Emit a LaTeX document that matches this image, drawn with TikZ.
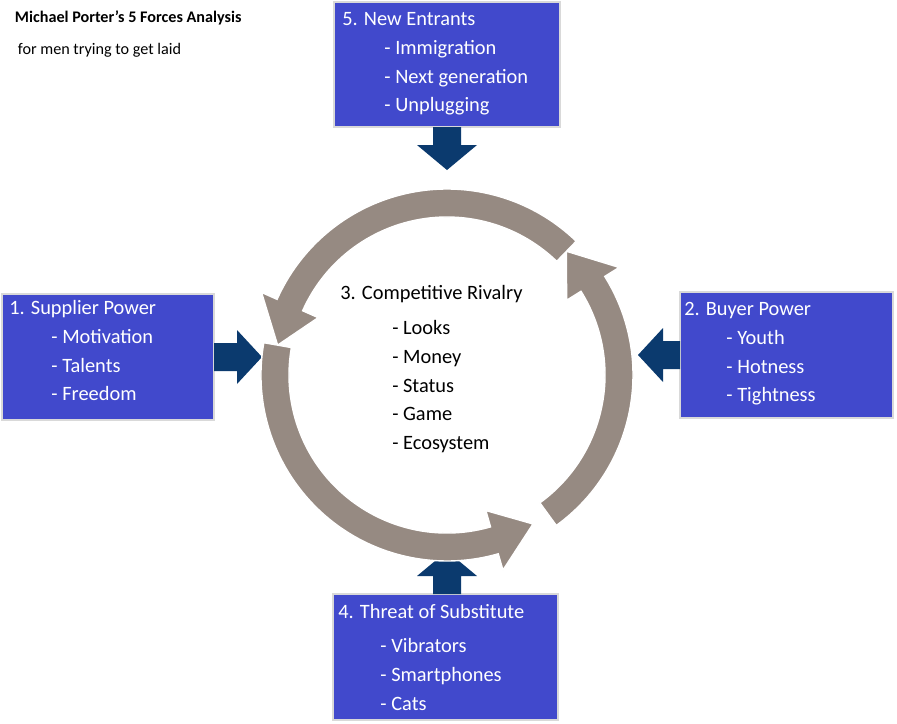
\documentclass[tikz,border=0pt]{standalone}
\usepackage{fontspec}
\setmainfont{Carlito}
\usetikzlibrary{positioning}

\begin{document}
\begin{tikzpicture}
[x=0.025cm,y=0.025cm,
 force/.style={draw=black!15,line width=1.2pt,fill=forceblue,text=white,anchor=north west,
   align=left,inner sep=0pt,font=\fontsize{14.5}{20.5}\selectfont},
 push/.style={fill=pushblue},
 ring/.style={fill=ringgray,draw=white,line width=1pt},
 item/.style={font=\fontsize{14.5}{20.5}\selectfont,anchor=north west,align=left,inner sep=0pt}]
\definecolor{forceblue}{HTML}{4149CC}
\definecolor{pushblue}{HTML}{0B3A6E}
\definecolor{ringgray}{HTML}{968A82}
\useasboundingbox (0,0) rectangle (897,-724);

%Title
\node (title) at (10,-18) [anchor=west,font=\fontsize{11.5}{14}\selectfont\bfseries] {Michael Porter's 5 Forces Analysis};
\node (subtitle) at (13,-50) [anchor=west,font=\fontsize{11.5}{14}\selectfont] {for men trying to get laid};

%Force boxes
\draw[force] (334,-2) rectangle (560,-127);
\draw[force] (2,-294) rectangle (214,-420);
\draw[force] (680,-292) rectangle (893,-418);
\draw[force] (333,-594) rectangle (558,-720);
\node (entrants) at (342,-12) [item,text=white] {5. New Entrants\\\hspace*{30pt}- Immigration\\\hspace*{30pt}- Next generation\\\hspace*{30pt}- Unplugging};
\node (supplier) at (9,-300) [item,text=white] {1. Supplier Power\\\hspace*{30pt}- Motivation\\\hspace*{30pt}- Talents\\\hspace*{30pt}- Freedom};
\node (buyer) at (684,-302) [item,text=white] {2. Buyer Power\\\hspace*{30pt}- Youth\\\hspace*{30pt}- Hotness\\\hspace*{30pt}- Tightness};
\node (substitute) at (338,-604) [item,text=white] {4. Threat of Substitute\\[4pt]\hspace*{30pt}- Vibrators\\\hspace*{30pt}- Smartphones\\\hspace*{30pt}- Cats};

%Block arrows
\fill[push] (433,-127) -- (461,-127) -- (461,-145) -- (477,-145) -- (447,-170) -- (417,-145) -- (433,-145) -- cycle;
\fill[push] (433,-594) -- (461,-594) -- (461,-576) -- (477,-576) -- (447,-551) -- (417,-576) -- (433,-576) -- cycle;
\fill[push] (214,-343) -- (237,-343) -- (237,-330) -- (262,-357) -- (237,-384) -- (237,-371) -- (214,-371) -- cycle;
\fill[push] (680,-341) -- (663,-341) -- (663,-328) -- (638,-355) -- (663,-382) -- (663,-369) -- (680,-369) -- cycle;

%Cycle ring
\begin{scope}[shift={(447,-375)}]
\foreach \a/\b in {-54/32, 46/156, 170/286}
  \draw[ring] (\a:186) arc (\a:\b:186) -- (\b:203) -- (\b+14:172) -- (\b:141) -- (\b:158) arc (\b:\a:158) -- cycle;
\end{scope}

%Rivalry list
\node (rivalry) at (340,-285) [item] {3. Competitive Rivalry};
\node (looks) at (392,-320) [item] {- Looks\\- Money\\- Status\\- Game\\- Ecosystem};
\end{tikzpicture}
\end{document}
